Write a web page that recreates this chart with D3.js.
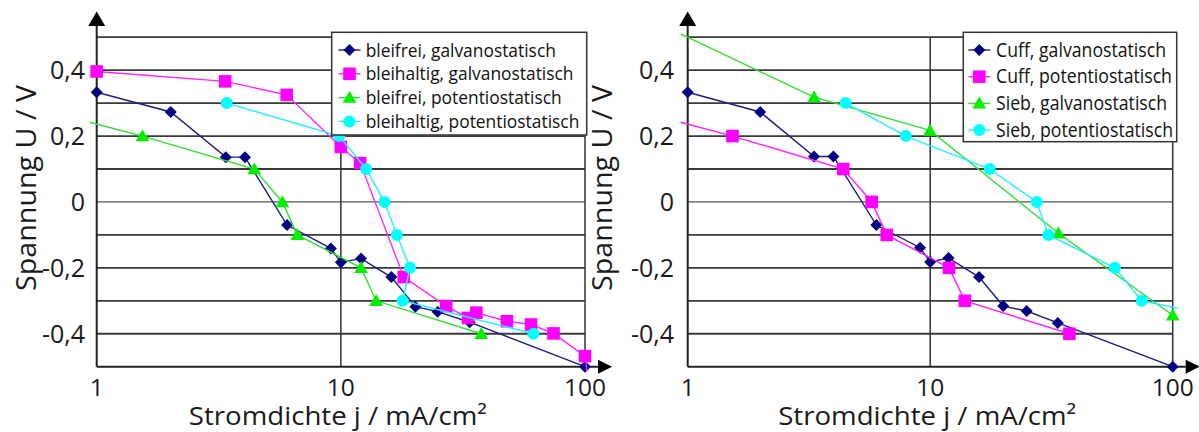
<!DOCTYPE html>
<html><head><meta charset="utf-8">
<script src="https://cdn.jsdelivr.net/npm/d3@7"></script>
<style>html,body{margin:0;padding:0;background:#fff;overflow:hidden}svg{display:block}</style>
</head><body>
<script>
// ---------- data ----------
const xTicks = [1, 10, 100];
const xTickLabels = ["1", "10", "100"];
const yTicks = [0.4, 0.2, 0, -0.2, -0.4];
const yTickLabels = ["0,4", "0,2", "0", "-0,2", "-0,4"];
const xTitle = "Stromdichte j / mA/cm²";
const yTitle = "Spannung U / V";

// left chart
const leftNames = ["bleifrei, galvanostatisch", "bleihaltig, galvanostatisch", "bleifrei, potentiostatisch", "bleihaltig, potentiostatisch"];
const bleifreiGalvX = [1, 2.01, 3.38, 4.05, 6.02, 9.1, 10, 12.1, 16.1, 20.2, 24.9, 33.7, 100];
const bleifreiGalvY = [0.333, 0.273, 0.136, 0.136, -0.07, -0.141, -0.183, -0.172, -0.228, -0.318, -0.333, -0.365, -0.5];
const bleihaltigGalvX = [1, 3.36, 6.0, 10, 12.0, 18.1, 27.0, 33.2, 35.9, 47.9, 60.1, 74.3, 100, 102];
const bleihaltigGalvY = [0.396, 0.366, 0.325, 0.167, 0.118, -0.228, -0.316, -0.352, -0.336, -0.362, -0.372, -0.399, -0.468, -0.513];
const bleifreiPotX = [0.935, 1.54, 4.42, 5.76, 6.63, 12.1, 13.95, 37.6];
const bleifreiPotY = [0.242, 0.2, 0.1, 0, -0.1, -0.2, -0.3, -0.4];
const bleihaltigPotX = [3.41, 9.84, 12.7, 15.1, 16.97, 19.2, 17.9, 61.5];
const bleihaltigPotY = [0.3, 0.2, 0.1, 0, -0.1, -0.2, -0.3, -0.4];

// right chart
const rightNames = ["Cuff, galvanostatisch", "Cuff, potentiostatisch", "Sieb, galvanostatisch", "Sieb, potentiostatisch"];
const cuffGalvX = [1, 1.99, 3.32, 3.99, 6.0, 9.08, 10, 11.9, 15.9, 20.0, 25.0, 33.6, 100];
const cuffGalvY = [0.333, 0.273, 0.138, 0.138, -0.07, -0.139, -0.182, -0.17, -0.228, -0.316, -0.331, -0.367, -0.5];
const cuffPotX = [0.935, 1.53, 4.38, 5.74, 6.62, 11.96, 13.9, 37.5];
const cuffPotY = [0.242, 0.2, 0.1, 0, -0.1, -0.2, -0.3, -0.4];
const siebGalvX = [0.935, 3.32, 9.98, 33.8, 100];
const siebGalvY = [0.51, 0.318, 0.217, -0.095, -0.344];
const siebPotX = [4.48, 7.93, 17.6, 27.5, 30.7, 57.8, 74.5, 105.5];
const siebPotY = [0.3, 0.2, 0.1, 0, -0.1, -0.2, -0.3, -0.323];

// ---------- styles ----------
const seriesStyles = [
  {shape: "diamond", fill: "#000080", line: "#1c1c86"},
  {shape: "square", fill: "#ff00ff", line: "#ff22ff"},
  {shape: "triangle", fill: "#00f000", line: "#33dd33"},
  {shape: "circle", fill: "#00ffff", line: "#22eeff"}
];
const shapes = {
  diamond: "M0,-6L6,0L0,6L-6,0Z",
  square: "M-6.3,-6.3H6.3V6.3H-6.3Z",
  triangle: "M0,-6.8L6.8,5.2L-6.8,5.2Z",
  circle: d3.symbol(d3.symbolCircle, 113)()
};

const panels = [
  {
    xRange: [96.7, 585], yTitleX: 36, tickEnd: 85,
    names: leftNames,
    data: [[bleifreiGalvX, bleifreiGalvY], [bleihaltigGalvX, bleihaltigGalvY], [bleifreiPotX, bleifreiPotY], [bleihaltigPotX, bleihaltigPotY]],
    legend: {x0: 331.7, y0: 32.3, x1: 586.7, y1: 135, row0: 50, step: 23.8, font: 18, sym: 349.5, text: 365.7, maxW: 213.6}
  },
  {
    xRange: [687.7, 1172.7], yTitleX: 612, tickEnd: 674,
    names: rightNames,
    data: [[cuffGalvX, cuffGalvY], [cuffPotX, cuffPotY], [siebGalvX, siebGalvY], [siebPotX, siebPotY]],
    legend: {x0: 963.3, y0: 32.3, x1: 1176.7, y1: 141.7, row0: 50, step: 26.7, font: 20, sym: 979.3, text: 996, maxW: 177}
  }
];

const FONT = "'Open Sans', 'Noto Sans', sans-serif";
const svg = d3.select("body").append("svg").attr("width", 1199).attr("height", 432);
const y = d3.scaleLinear().domain([-0.5, 0.5]).range([366.7, 37.2]);

panels.forEach(p => {
  const x = d3.scaleLog().domain([1, 100]).range(p.xRange);
  const g = svg.append("g");
  const ax = x(1);

  // horizontal gridlines
  const grid = y.ticks(10).filter(v => v > -0.45);
  g.selectAll("line.hg").data(grid).join("line")
    .attr("x1", ax).attr("x2", x(100))
    .attr("y1", d => y(d)).attr("y2", d => y(d))
    .attr("stroke", d => Math.abs(d) < 1e-9 ? "#555" : "#3a3a3a")
    .attr("stroke-width", d => Math.abs(d) < 1e-9 ? 1.2 : 1.8);
  // vertical gridlines
  g.selectAll("line.vg").data(xTicks.slice(1)).join("line")
    .attr("x1", d => x(d)).attr("x2", d => x(d))
    .attr("y1", y(0.5)).attr("y2", y(-0.5))
    .attr("stroke", "#333").attr("stroke-width", 1.5);

  // axes
  const arrowBase = x(100) + 13;
  g.append("line").attr("x1", ax).attr("x2", arrowBase).attr("y1", y(-0.5)).attr("y2", y(-0.5))
    .attr("stroke", "#222").attr("stroke-width", 2);
  g.append("path").attr("d", `M${arrowBase},${y(-0.5) - 7}L${arrowBase + 14},${y(-0.5)}L${arrowBase},${y(-0.5) + 7}Z`).attr("fill", "#000");
  g.append("line").attr("x1", ax).attr("x2", ax).attr("y1", 26).attr("y2", y(-0.5))
    .attr("stroke", "#222").attr("stroke-width", 2);
  g.append("path").attr("d", `M${ax - 8.5},26L${ax},11.5L${ax + 8.5},26Z`).attr("fill", "#000");

  // tick labels
  g.selectAll("text.xt").data(xTicks).join("text")
    .attr("x", d => x(d)).attr("y", 395.5)
    .attr("text-anchor", "middle").attr("font-family", FONT).attr("font-size", 24.5).attr("fill", "#1a1a1a")
    .text((d, i) => xTickLabels[i]);
  g.selectAll("text.yt").data(yTicks).join("text")
    .attr("x", p.tickEnd).attr("y", d => y(d) + 9)
    .attr("text-anchor", "end").attr("font-family", FONT).attr("font-size", 25).attr("fill", "#1a1a1a")
    .text((d, i) => yTickLabels[i]);

  // titles
  g.append("text").attr("transform", `translate(${p.yTitleX},188) rotate(-90)`)
    .attr("text-anchor", "middle").attr("font-family", FONT).attr("font-size", 27).attr("fill", "#1a1a1a")
    .attr("textLength", 206).attr("lengthAdjust", "spacingAndGlyphs")
    .text(yTitle);
  g.append("text").attr("x", (p.xRange[0] + p.xRange[1]) / 2 - 3).attr("y", 425)
    .attr("text-anchor", "middle").attr("font-family", FONT).attr("font-size", 26).attr("fill", "#1a1a1a")
    .attr("textLength", 298).attr("lengthAdjust", "spacingAndGlyphs")
    .text(xTitle);

  // series
  p.data.forEach((s, si) => {
    const st = seriesStyles[si];
    const pts = s[0].map((xv, i) => [xv, s[1][i]]);
    g.append("path").datum(pts)
      .attr("d", d3.line().x(d => x(d[0])).y(d => y(d[1])))
      .attr("fill", "none").attr("stroke", st.line).attr("stroke-width", 1.4);
    g.selectAll(null).data(pts.filter(d => d[0] >= 0.999 && d[0] <= 100.001)).join("path")
      .attr("transform", d => `translate(${x(d[0])},${y(d[1])})`)
      .attr("d", shapes[st.shape]).attr("fill", st.fill);
  });

  // legend
  const L = p.legend;
  const lg = svg.append("g");
  lg.append("rect").attr("x", L.x0).attr("y", L.y0).attr("width", L.x1 - L.x0).attr("height", L.y1 - L.y0)
    .attr("fill", "#fff").attr("stroke", "#333").attr("stroke-width", 1.5);
  const texts = [];
  p.names.forEach((name, i) => {
    const st = seriesStyles[i];
    const cy = L.row0 + i * L.step;
    lg.append("line").attr("x1", L.sym - 11).attr("x2", L.sym + 11).attr("y1", cy).attr("y2", cy)
      .attr("stroke", st.line).attr("stroke-width", 1.4);
    lg.append("path").attr("transform", `translate(${L.sym},${cy})`).attr("d", shapes[st.shape]).attr("fill", st.fill);
    texts.push(lg.append("text").attr("x", L.text).attr("y", cy + 6.5)
      .attr("font-family", FONT).attr("font-size", L.font).attr("fill", "#111").text(name));
  });
  const lens = texts.map(t => t.node().getComputedTextLength());
  const f = L.maxW / d3.max(lens);
  texts.forEach((t, i) => t.attr("textLength", lens[i] * f).attr("lengthAdjust", "spacingAndGlyphs"));
});
</script>
</body></html>
